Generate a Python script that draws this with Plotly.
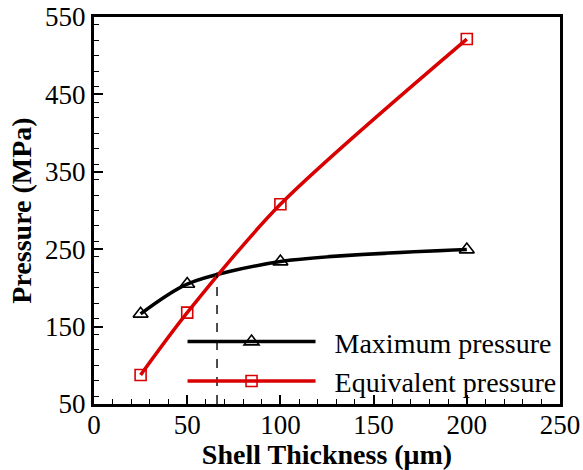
import plotly.graph_objects as go

thickness = [25, 50, 100, 200]
max_pressure = [166.5, 205, 234, 249.5]
equiv_pressure = [87.5, 168, 308, 521.5]
cross_x = 66
cross_y = 220
y_floor = 50

font = "Liberation Serif, Times New Roman, serif"
gap = "\u00a0\u00a0"

fig = go.Figure()
fig.add_trace(go.Scatter(
    x=thickness, y=max_pressure, mode="lines+markers", name=gap + "Maximum pressure",
    line=dict(color="black", width=3.5, shape="spline", smoothing=0.8),
    marker=dict(symbol="triangle-up-open", size=13, color="black", line=dict(width=1.6)),
))
fig.add_trace(go.Scatter(
    x=thickness, y=equiv_pressure, mode="lines+markers", name=gap + "Equivalent pressure",
    line=dict(color="#d80000", width=3.5, shape="spline", smoothing=0.8),
    marker=dict(symbol="square-open", size=11, color="#d80000", line=dict(width=1.6)),
))
fig.add_trace(go.Scatter(
    x=[cross_x, cross_x], y=[y_floor, cross_y], mode="lines", showlegend=False,
    line=dict(color="black", width=1.4, dash="dash"),
))

axis_common = dict(
    showgrid=False, zeroline=False, showline=True, linecolor="black", linewidth=3,
    mirror=True, ticks="inside", ticklen=9, tickwidth=1.5, tickcolor="black",
    tickfont=dict(family=font, size=27, color="black"), automargin=False,
)
fig.update_xaxes(range=[0, 250], dtick=50, tick0=0, ticklabelstandoff=-5,
                 minor=dict(ticks="inside", ticklen=5, dtick=10, tickwidth=1, tickcolor="black"),
                 title=dict(text="<b>Shell Thickness (μm)</b>", font=dict(family=font, size=28, color="black"), standoff=0),
                 **axis_common)
fig.update_yaxes(range=[50, 550], dtick=100, tick0=50,
                 minor=dict(ticks="inside", ticklen=5, dtick=20, tickwidth=1, tickcolor="black"),
                 title=dict(text="<b>Pressure (MPa)</b>", font=dict(family=font, size=28, color="black"), standoff=6),
                 **axis_common)

fig.update_layout(
    width=583, height=470,
    margin=dict(l=94, r=23, t=17, b=66),
    plot_bgcolor="white", paper_bgcolor="white",
    font=dict(family=font, color="black"),
    legend=dict(x=0.19, y=0.225, xanchor="left", yanchor="top",
                bgcolor="rgba(0,0,0,0)", font=dict(family=font, size=28, color="black"),
                itemwidth=128, tracegroupgap=0),
)

fig.write_html("out.html")
